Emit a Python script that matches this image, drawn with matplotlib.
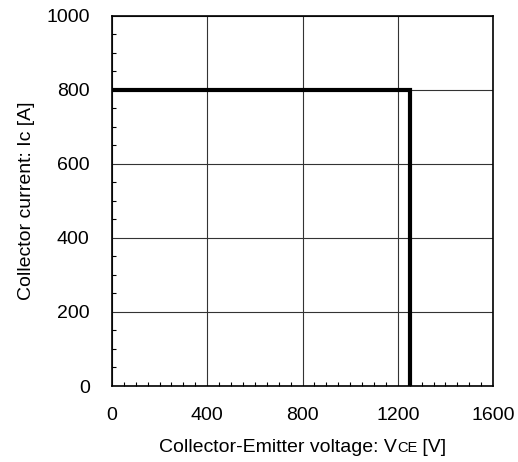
import matplotlib
matplotlib.use('Agg')
import matplotlib.pyplot as plt
from matplotlib.ticker import MultipleLocator

plt.rcParams['font.family'] = ['Liberation Sans', 'DejaVu Sans']

# Safe operating area boundary: Vce [V] vs Ic [A]
vce = [0, 1250, 1250]
ic = [800, 800, 0]

x_ticks = [0, 400, 800, 1200, 1600]
y_ticks = [0, 200, 400, 600, 800, 1000]

fig = plt.figure(figsize=(5.18, 4.62), dpi=100)
ax = fig.add_axes([0.216, 0.1645, 0.736, 0.801])

ax.plot(vce, ic, color='black', linewidth=3, solid_joinstyle='miter', zorder=3)

ax.set_xlim(0, 1600)
ax.set_ylim(0, 1000)
ax.set_xticks(x_ticks)
ax.set_yticks(y_ticks)
ax.xaxis.set_minor_locator(MultipleLocator(50))
ax.yaxis.set_minor_locator(MultipleLocator(50))
ax.tick_params(which='major', length=0, labelsize=14)
ax.tick_params(axis='x', which='major', pad=15)
ax.tick_params(axis='y', which='major', pad=16)
ax.tick_params(which='minor', direction='in', length=3, width=0.8, color='black')
ax.grid(True, which='major', color='#333333', linewidth=0.8)
for s in ax.spines.values():
    s.set_linewidth(1.2)

ax.set_ylabel('Collector current: Ic [A]', fontsize=14, labelpad=8)

# x label with the small "CE" subscript drawn inline
fig.canvas.draw()
r = fig.canvas.get_renderer()
parts = [('Collector-Emitter voltage: V', 14), ('CE', 10.5), (' [V]', 14)]
texts = []
for s, fs in parts:
    texts.append(fig.text(0, 0, s, fontsize=fs, va='baseline', ha='left'))
widths = [t.get_window_extent(r).width for t in texts]
total = sum(widths)
axbox = ax.get_window_extent(r)
x0 = (axbox.x0 + axbox.x1) / 2 - total / 2
y0 = 462 - 452
W = fig.bbox.width
for t, w in zip(texts, widths):
    t.set_position((x0 / W, y0 / fig.bbox.height))
    x0 += w

fig.savefig('out.png', dpi=100)
